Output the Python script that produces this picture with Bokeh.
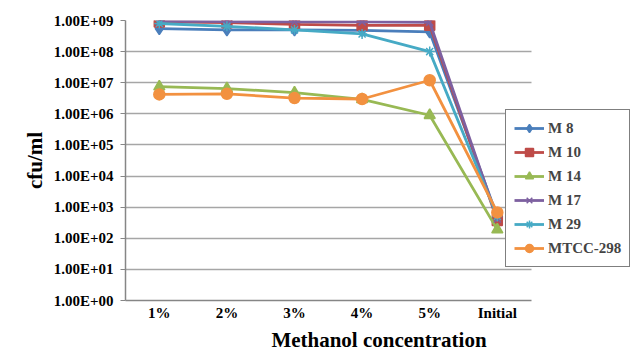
from bokeh.plotting import figure
from bokeh.models import Range1d, FixedTicker, CustomJSTickFormatter, Legend, LegendItem
from bokeh.embed import file_html
from bokeh.resources import INLINE

categories = ["1%", "2%", "3%", "4%", "5%", "Initial"]
m8 = [5.5e8, 5.0e8, 5.0e8, 4.8e8, 4.3e8, 5.0e2]
m10 = [9.0e8, 8.5e8, 7.5e8, 7.0e8, 7.0e8, 3.7e2]
m14 = [7.5e6, 6.5e6, 4.8e6, 2.9e6, 9.0e5, 1.9e2]
m17 = [9.5e8, 9.2e8, 9.0e8, 9.0e8, 8.8e8, 4.2e2]
m29 = [8.0e8, 6.5e8, 5.0e8, 3.7e8, 1.0e8, 5.0e2]
mtcc = [4.2e6, 4.4e6, 3.2e6, 3.0e6, 1.2e7, 6.8e2]
y_ticks = [10 ** i for i in range(10)]

series = [
    ("M 8", m8, "#4A7EBB", "diamond", 12),
    ("M 10", m10, "#BE4B48", "square", 10),
    ("M 14", m14, "#98B954", "triangle", 11),
    ("M 17", m17, "#7D60A0", "x", 10),
    ("M 29", m29, "#46AAC5", "asterisk", 10),
    ("MTCC-298", mtcc, "#F29140", "circle", 11),
]

xs = list(range(1, len(categories) + 1))
FONT = "Liberation Serif"

p = figure(width=634, height=355, x_range=Range1d(0.5, 8.0), y_axis_type="log",
           y_range=Range1d(1, 1e9), output_backend="svg", toolbar_location=None,
           min_border_left=125, min_border_right=2, min_border_top=20, min_border_bottom=55)
p.outline_line_color = None
p.xgrid.grid_line_color = None
p.ygrid.grid_line_color = "#a6a6a6"
p.ygrid.grid_line_width = 1.5
p.ygrid.cross_bounds = (0.5, len(categories) + 0.5)

items = []
for name, vals, color, marker, size in series:
    r1 = p.line(xs, vals, line_color=color, line_width=2.8)
    r2 = p.scatter(xs, vals, marker=marker, size=size, fill_color=color,
                   line_color=color, line_width=1.5)
    items.append(LegendItem(label=name, renderers=[r1, r2]))

p.xaxis.ticker = FixedTicker(ticks=xs)
p.xaxis.major_label_overrides = {x: c for x, c in zip(xs, categories)}
p.xaxis.bounds = (0.5, len(categories) + 0.5)
p.xaxis.minor_tick_line_color = None
p.xaxis.major_tick_line_color = None
p.xaxis.major_tick_in = 0
p.xaxis.major_tick_out = 0

p.yaxis.ticker = FixedTicker(ticks=y_ticks)
p.yaxis.formatter = CustomJSTickFormatter(code="""
const e = Math.round(Math.log10(tick));
return '1.00E+' + (e < 10 ? '0' : '') + e;
""")
p.yaxis.minor_tick_line_color = None
p.yaxis.major_tick_in = 0
p.yaxis.major_tick_out = 5
for ax in (p.xaxis, p.yaxis):
    ax.axis_line_color = "#868686"
    ax.axis_line_width = 1.5
    ax.major_label_text_font = FONT
    ax.major_label_text_font_style = "bold"
    ax.major_label_text_font_size = "15px"
    ax.major_label_text_color = "black"
    ax.axis_label_text_font = FONT
    ax.axis_label_text_font_style = "bold"
    ax.axis_label_text_font_size = "21px"
    ax.axis_label_text_color = "black"
p.yaxis.major_tick_line_color = "#868686"
p.xaxis.major_label_standoff = 4
p.xaxis.axis_label = "Methanol concentration"
p.xaxis.axis_label_standoff = 4
p.yaxis.axis_label = "cfu/ml"
p.yaxis.axis_label_standoff = 4
p.yaxis.major_label_standoff = 7

legend = Legend(items=items, location=(380, 33), border_line_color="black",
                border_line_width=1, label_text_font=FONT, label_text_font_style="bold",
                label_text_font_size="15px", glyph_width=30, glyph_height=20,
                label_height=20, label_standoff=4, spacing=4, padding=8, margin=0,
                background_fill_alpha=1)
p.add_layout(legend, "center")

open("out.html", "w").write(file_html(p, INLINE))
